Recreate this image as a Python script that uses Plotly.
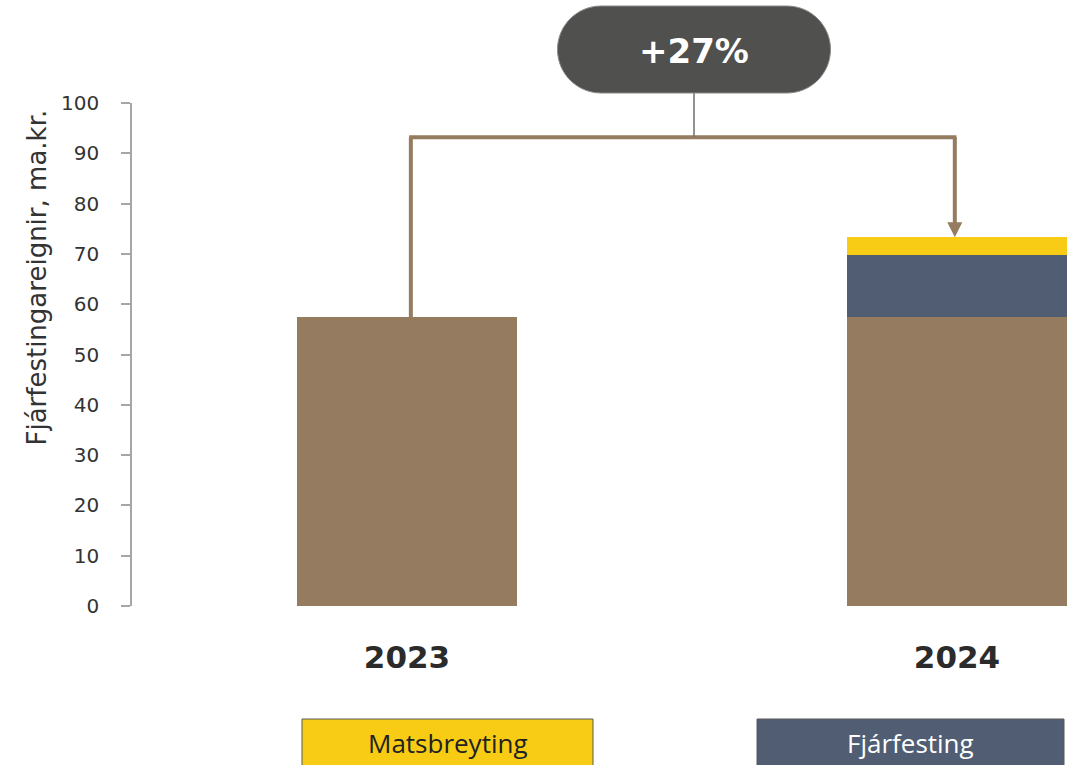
import plotly.graph_objects as go

# Data (ma.kr.)
years = ["2023", "2024"]
base_value = [57.4, 57.4]       # fjárfestingareignir í upphafi
fjarfesting = [0.0, 12.3]       # fjárfesting á árinu
matsbreyting = [0.0, 3.6]       # matsbreyting á árinu
growth_label = "+27%"
legend_labels = ["Matsbreyting", "Fjárfesting"]
y_ticks = [0, 10, 20, 30, 40, 50, 60, 70, 80, 90, 100]

BROWN = "#957B5F"
NAVY = "#505D73"
YELLOW = "#F8CC14"
PILL = "#50504E"

x_pos = [0, 1]
bar_w = 0.4

fig = go.Figure()
fig.add_bar(x=x_pos, y=base_value, width=bar_w, marker=dict(color=BROWN, line_width=0),
            name="Grunnur", showlegend=False)
fig.add_bar(x=x_pos, y=fjarfesting, width=bar_w, marker=dict(color=NAVY, line_width=0),
            name=legend_labels[1], showlegend=False)
fig.add_bar(x=x_pos, y=matsbreyting, width=bar_w, marker=dict(color=YELLOW, line_width=0),
            name=legend_labels[0], showlegend=False)

total_2023 = base_value[0] + fjarfesting[0] + matsbreyting[0]
total_2024 = base_value[1] + fjarfesting[1] + matsbreyting[1]

# Plot-area geometry in pixels, used to size decorations
PLOT_L, PLOT_R, PLOT_T, PLOT_B = 132, 1074, 103, 606
plot_w = PLOT_R - PLOT_L
plot_h = PLOT_B - PLOT_T
x_range = [-0.5, 1.2127]
px_per_x = plot_w / (x_range[1] - x_range[0])
px_per_y = plot_h / 100.0


def paper_y(py):
    return (PLOT_B - py) / plot_h


# Bracket connecting the two totals
bracket_y = 93.2
xl, xr = 0.007, 0.996
line_style = dict(color=BROWN, width=4)
arrow_len = 15 / px_per_y
arrow_half = 7.5 / px_per_x
fig.add_shape(type="line", x0=xl, x1=xl, y0=total_2023, y1=bracket_y, line=line_style)
fig.add_shape(type="line", x0=xl - 0.003, x1=xr + 0.003, y0=bracket_y, y1=bracket_y, line=line_style)
fig.add_shape(type="line", x0=xr, x1=xr, y0=bracket_y, y1=total_2024 + arrow_len * 0.8, line=line_style)
fig.add_shape(type="path",
              path=f"M {xr - arrow_half},{total_2024 + arrow_len} L {xr + arrow_half},{total_2024 + arrow_len} "
                   f"L {xr},{total_2024} Z",
              fillcolor=BROWN, line_width=0)

# Pill-shaped growth label (x in data units, y in paper units)
pill_cx = 0.5218
pill_y0, pill_y1 = paper_y(93), paper_y(6)
half_h = (pill_y1 - pill_y0) / 2
rad_x = half_h * plot_h / px_per_x
half_w = (830 - 557) / 2 / px_per_x
pill_cy = (pill_y0 + pill_y1) / 2
k = 0.5523
lx = pill_cx - half_w + rad_x
rx = pill_cx + half_w - rad_x
path = (f"M {lx},{pill_y1} L {rx},{pill_y1} "
        f"C {rx + k * rad_x},{pill_y1} {rx + rad_x},{pill_cy + k * half_h} {rx + rad_x},{pill_cy} "
        f"C {rx + rad_x},{pill_cy - k * half_h} {rx + k * rad_x},{pill_y0} {rx},{pill_y0} "
        f"L {lx},{pill_y0} "
        f"C {lx - k * rad_x},{pill_y0} {lx - rad_x},{pill_cy - k * half_h} {lx - rad_x},{pill_cy} "
        f"C {lx - rad_x},{pill_cy + k * half_h} {lx - k * rad_x},{pill_y1} {lx},{pill_y1} Z")
fig.add_shape(type="line", xref="x", yref="paper", x0=pill_cx, x1=pill_cx,
              y0=paper_y(137), y1=pill_y0, line=dict(color="#6E6E6E", width=1.5))
fig.add_shape(type="path", xref="x", yref="paper", path=path, fillcolor=PILL,
              line=dict(color="#8A8A88", width=1))
fig.add_annotation(xref="x", yref="paper", x=pill_cx, y=pill_cy, yanchor="middle",
                   text=f"<b>{growth_label}</b>", showarrow=False, yshift=-2,
                   font=dict(family="DejaVu Sans", size=34, color="white"))

# Axis title
fig.add_annotation(x=(37 - PLOT_L) / plot_w, xref="paper", y=65.3, yref="y",
                   xanchor="center", yanchor="middle",
                   text="Fjárfestingareignir, ma.kr.", textangle=-90, showarrow=False,
                   font=dict(family="DejaVu Sans", size=26, color="#333333"))

# Legend boxes below the chart
legend_specs = [
    (legend_labels[0], YELLOW, "#222222", 302, 593),
    (legend_labels[1], NAVY, "#FFFFFF", 757, 1064),
]
for label, fill, txt_col, px0, px1 in legend_specs:
    fig.add_shape(type="rect", xref="paper", yref="paper",
                  x0=(px0 - PLOT_L) / plot_w, x1=(px1 - PLOT_L) / plot_w,
                  y0=paper_y(780), y1=paper_y(719),
                  fillcolor=fill, line=dict(color="#5A5A5A", width=1))
    fig.add_annotation(xref="paper", yref="paper", x=((px0 + px1) / 2 - PLOT_L) / plot_w,
                       y=paper_y(743), xanchor="center", yanchor="middle",
                       text=label, showarrow=False,
                       font=dict(family="Open Sans", size=26, color=txt_col))

fig.update_layout(
    width=1074, height=765,
    margin=dict(l=PLOT_L, r=1074 - PLOT_R, t=PLOT_T, b=765 - PLOT_B),
    barmode="stack", bargap=0,
    plot_bgcolor="white", paper_bgcolor="white",
    showlegend=False,
    xaxis=dict(range=x_range, tickmode="array", tickvals=x_pos,
               ticktext=[f"<b>{y}</b>" for y in years],
               tickfont=dict(family="DejaVu Sans", size=31, color="#2B2B2B"),
               showgrid=False, zeroline=False, showline=False, ticks="",
               ticklabelstandoff=30, fixedrange=True),
    yaxis=dict(range=[0, 100], tickmode="array", tickvals=y_ticks,
               tickfont=dict(family="DejaVu Sans", size=20, color="#333333"),
               showgrid=False, zeroline=False, showline=True, linecolor="#A6A6A6", linewidth=1.5,
               ticks="outside", ticklen=9, tickcolor="#A6A6A6", tickwidth=1.5,
               ticklabelstandoff=18, fixedrange=True),
)

fig.write_html("out.html")
